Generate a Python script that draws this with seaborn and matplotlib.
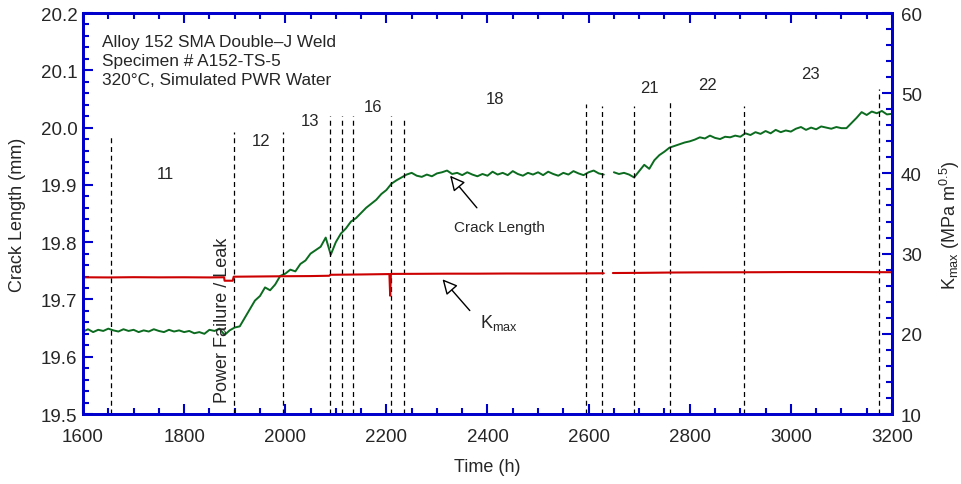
import numpy as np
import pandas as pd
import seaborn as sns
import matplotlib
matplotlib.use("Agg")
from matplotlib import pyplot as plt
from matplotlib.ticker import MultipleLocator, FormatStrFormatter

# crack length (mm), read every 10 h from 1600 to 3200 h; nan = data gap
crack_hours = np.arange(1600, 3201, 10)
crack_mm = [
    19.644, 19.648, 19.643, 19.647, 19.645, 19.649, 19.646, 19.644, 19.648, 19.645,
    19.647, 19.643, 19.646, 19.644, 19.648, 19.645, 19.643, 19.647, 19.644, 19.646,
    19.643, 19.645, 19.641, 19.643, 19.640, 19.647, 19.645, 19.649, 19.638, 19.646,
    19.651, 19.653, 19.668, 19.683, 19.698, 19.706, 19.721, 19.716, 19.726, 19.741,
    19.745, 19.752, 19.749, 19.762, 19.768, 19.780, 19.786, 19.792, 19.808, 19.778,
    19.800, 19.815, 19.824, 19.836, 19.842, 19.851, 19.860, 19.867, 19.874, 19.884,
    19.891, 19.902, 19.908, 19.913, 19.918, 19.921, 19.916, 19.914, 19.918, 19.915,
    19.920, 19.922, 19.925, 19.919, 19.921, 19.917, 19.922, 19.918, 19.915, 19.919,
    19.916, 19.923, 19.918, 19.921, 19.917, 19.924, 19.919, 19.916, 19.921, 19.918,
    19.922, 19.917, 19.923, 19.919, 19.916, 19.921, 19.918, 19.924, 19.920, 19.917,
    19.922, 19.925, 19.920, 19.918, np.nan, 19.922, 19.919, 19.921, 19.918, 19.913,
    19.924, 19.935, 19.928, 19.943, 19.952, 19.958, 19.965, 19.968, 19.971, 19.974,
    19.976, 19.979, 19.983, 19.981, 19.986, 19.982, 19.980, 19.984, 19.983, 19.986,
    19.984, 19.990, 19.987, 19.992, 19.989, 19.994, 19.990, 19.996, 19.992, 19.995,
    19.993, 19.998, 20.001, 19.996, 20.000, 19.997, 20.002, 20.000, 19.998, 20.001,
    19.999, 19.999, 20.008, 20.017, 20.027, 20.022, 20.028, 20.025, 20.029, 20.023,
    20.024,
]

# K max (MPa m^0.5)
k_hours = [1600, 1650, 1700, 1750, 1800, 1850, 1879, 1880, 1896, 1898, 1950, 2000,
           2050, 2087, 2089, 2150, 2206, 2207.5, 2209, 2260, 2320, 2380, 2440, 2500,
           2560, 2630, 2648, 2700, 2760, 2820, 2880, 2940, 3000, 3060, 3120, 3200]
k_max = [27.05, 27.03, 27.06, 27.04, 27.05, 27.03, 27.05, 26.62, 26.62, 27.12, 27.15, 27.18,
         27.20, 27.24, 27.36, 27.40, 27.45, 24.75, 27.47, 27.48, 27.50, 27.50, 27.52, 27.52,
         27.53, 27.55, 27.58, 27.60, 27.64, 27.66, 27.67, 27.68, 27.70, 27.70, 27.70, 27.68]
gap_hour = 2640

# test segment boundaries (dashed lines) and their top ends
event_hours = [1655, 1899, 1996, 2088, 2112, 2133, 2209, 2234, 2594, 2626, 2689, 2760, 2908, 3175]
event_tops = [19.985, 19.992, 19.992, 20.021, 20.021, 20.021, 20.020, 20.018, 20.041, 20.038,
              20.038, 20.045, 20.038, 20.067]

# segment numbers
seg_labels = ["11", "12", "13", "16", "18", "21", "22", "23"]
seg_hours = [1762, 1952, 2049, 2174, 2415, 2721, 2836, 3038]
seg_y = [19.919, 19.977, 20.012, 20.036, 20.050, 20.070, 20.076, 20.095]

BLUE = "#0000cc"
GREEN = "#0b6b1f"
RED = "#cc0000"

sns.set_style("ticks")
plt.rcParams["font.family"] = ["Liberation Sans", "DejaVu Sans"]
plt.rcParams["mathtext.fontset"] = "custom"
plt.rcParams["mathtext.rm"] = "Liberation Sans"
plt.rcParams["mathtext.it"] = "Liberation Sans:italic"

crack = pd.DataFrame({"hours": crack_hours, "mm": crack_mm})
crack["seg"] = (crack["hours"] > gap_hour).astype(int)
crack = crack.dropna()
kdf = pd.DataFrame({"hours": k_hours, "K": k_max})
kdf["seg"] = (kdf["hours"] > gap_hour).astype(int)

fig = plt.figure(figsize=(9.62, 4.85), dpi=100)
ax = fig.add_axes([0.0863, 0.1443, 0.8409, 0.8268])
ax2 = ax.twinx()

sns.lineplot(data=crack, x="hours", y="mm", units="seg", estimator=None,
             color=GREEN, lw=1.4, ax=ax)
sns.lineplot(data=kdf, x="hours", y="K", units="seg", estimator=None,
             color=RED, lw=1.5, ax=ax2)

ax.vlines(event_hours, 19.5, event_tops, colors="k", linestyles=(0, (4, 3)), lw=0.9)
for h, y, s in zip(seg_hours, seg_y, seg_labels):
    ax.text(h, y, s, ha="center", va="center", fontsize=12)

# header block, one line per text so the spacing is exact
header = ["Alloy 152 SMA Double\u2013J Weld", "Specimen # A152-TS-5",
          "320\u00b0C, Simulated PWR Water"]
for i, line in enumerate(header):
    ax.text(0.024, 0.93 - i * 0.0474, line, transform=ax.transAxes,
            ha="left", va="center", fontsize=12.4)
ax.text(1875, 19.521, "Power Failure / Leak", rotation=90, ha="center", va="bottom",
        fontsize=13)

# arrows
head = dict(arrowstyle="-|>,head_length=0.9,head_width=0.45", fc="white", ec="black",
            lw=1, shrinkA=0, shrinkB=0)
ax.annotate("", xy=(2326, 19.916), xytext=(2379, 19.860), arrowprops=head)
ax.text(2423, 19.826, "Crack Length", ha="center", va="center", fontsize=11)
ax2.annotate("", xy=(2311, 26.8), xytext=(2365, 22.9), arrowprops=head)
ax2.text(2423, 21.5, r"K$_{\mathrm{max}}$", ha="center", va="center", fontsize=13)

ax.set_xlim(1600, 3200)
ax.set_ylim(19.5, 20.2)
ax2.set_ylim(10, 60)
ax.xaxis.set_major_locator(MultipleLocator(200))
ax.xaxis.set_minor_locator(MultipleLocator(50))
ax.yaxis.set_major_locator(MultipleLocator(0.1))
ax.yaxis.set_minor_locator(MultipleLocator(0.02))
ax.yaxis.set_major_formatter(FormatStrFormatter("%.1f"))
ax2.yaxis.set_major_locator(MultipleLocator(10))
ax2.yaxis.set_minor_locator(MultipleLocator(2))

for a in (ax, ax2):
    for sp in a.spines.values():
        sp.set_visible(True)
        sp.set_color(BLUE)
        sp.set_linewidth(2)
    a.tick_params(which="both", direction="in", color=BLUE, width=1.5, labelsize=13.5)
    a.tick_params(which="major", length=7.2)
    a.tick_params(which="minor", length=4.3)
ax.tick_params(axis="x", which="both", top=True, labeltop=False, pad=10)
ax.tick_params(axis="y", which="both", left=True, right=False, pad=4)
ax2.tick_params(axis="y", which="both", left=False, right=True, pad=6.5)

ax.set_xlabel("Time (h)", fontsize=13)
ax.set_ylabel("Crack Length (mm)", fontsize=13)
ax2.set_ylabel(r"K$_{\mathrm{max}}$ (MPa m$^{0.5}$)", fontsize=13)
ax.xaxis.set_label_coords(0.5, -0.11)
ax.yaxis.set_label_coords(-0.07, 0.5)
ax2.yaxis.set_label_coords(1.057, 0.474)

fig.savefig("out.png", dpi=100)
